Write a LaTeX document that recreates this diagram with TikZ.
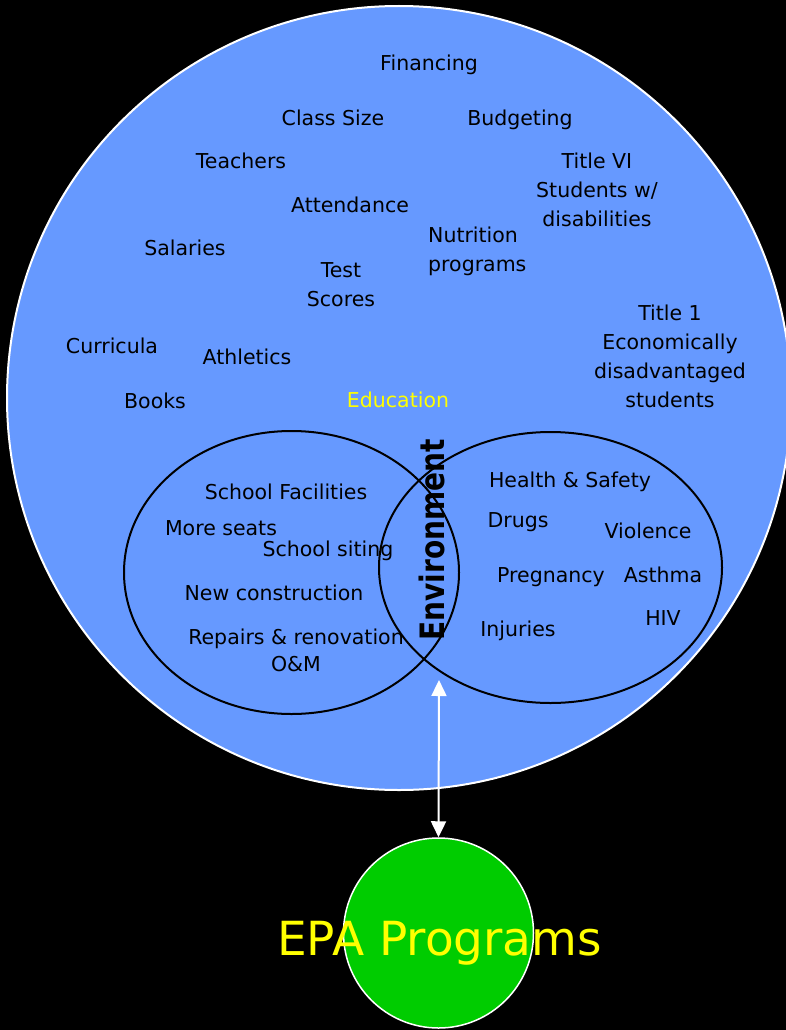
\documentclass[tikz,border=0pt]{standalone}
\usepackage{fontspec}
\setmainfont{DejaVu Sans}
\usetikzlibrary{arrows.meta,shapes.geometric}
\definecolor{edublue}{HTML}{6699FF}
\definecolor{epagreen}{HTML}{00CC00}
\definecolor{labelyellow}{HTML}{FFFF00}
\begin{document}
\begin{tikzpicture}[x=1pt,y=-1pt,
  item/.style={font=\fontsize{20.5}{29}\selectfont, text=black, inner sep=0pt, align=center},
  single/.style={item, anchor=mid, yshift=-5pt},
  ring/.style={ellipse, draw=black, line width=2pt, inner sep=0pt},
  link/.style={draw=white, line width=2pt, {Triangle[width=15pt,length=16pt]}-{Triangle[width=15pt,length=16pt]}}]

% canvas
\useasboundingbox (0,0) rectangle (786,1030);
\fill[black] (0,0) rectangle (786,1030);
\clip (0,0) rectangle (786,1030);

% Education domain
\node[circle, fill=edublue, draw=white, line width=2pt, minimum size=784pt, inner sep=0pt] (edu) at (399,398) {};

% overlapping areas
\node[ring, minimum width=335pt, minimum height=283pt] (facilities) at (291.5,572.5) {};
\node[ring, minimum width=343pt, minimum height=271pt] (health) at (550.5,567.5) {};

% education topics
\node[single] (financing) at (429,63) {Financing};
\node[single] (classsize) at (333,118) {Class Size};
\node[single] (budgeting) at (520,118) {Budgeting};
\node[single] (teachers) at (241,161) {Teachers};
\node[item] (titlevi) at (597,190) {Title VI\\Students w/\\disabilities};
\node[single] (attendance) at (350,205) {Attendance};
\node[item, align=left, anchor=west] (nutrition) at (428,251.5) {Nutrition\\programs};
\node[single] (salaries) at (185,248) {Salaries};
\node[item] (testscores) at (341,284.5) {Test\\Scores};
\node[item] (titleone) at (670,356.5) {Title 1\\Economically\\disadvantaged\\students};
\node[single] (curricula) at (112,346) {Curricula};
\node[single] (athletics) at (247,357) {Athletics};
\node[single] (books) at (155,401) {Books};
\node[single, text=labelyellow] (education) at (398,400) {Education};

% school facilities topics
\node[single] (schoolfac) at (286,492) {School Facilities};
\node[single] (moreseats) at (221,528) {More seats};
\node[single] (siting) at (328,549) {School siting};
\node[single] (newcons) at (274,593) {New construction};
\node[item, font=\fontsize{20.5}{27}\selectfont] (repairs) at (296,650.5) {Repairs \& renovation\\O\&M};

% health and safety topics
\node[single] (healthsafety) at (570,480) {Health \& Safety};
\node[single] (drugs) at (518,520) {Drugs};
\node[single] (violence) at (648,531) {Violence};
\node[single] (pregnancy) at (551,575) {Pregnancy};
\node[single] (asthma) at (663,575) {Asthma};
\node[single] (hiv) at (663,618) {HIV};
\node[single] (injuries) at (518,629) {Injuries};

% shared label
\node[rotate=90, inner sep=0pt, font=\fontsize{28}{30}\selectfont\bfseries] (environment) at (432,540) {\scalebox{1}[1.2]{Environment}};

% EPA programs
\node[circle, fill=epagreen, draw=white, line width=1.5pt, minimum size=190pt, inner sep=0pt] (epa) at (438.5,933) {};
\coordinate (envtip) at (439,680);
\draw[link] (envtip) -- (epa.north);
\node[anchor=base, inner sep=0pt, text=labelyellow, font=\fontsize{47}{50}\selectfont] (epalabel) at (439.5,955) {EPA Programs};
\end{tikzpicture}
\end{document}
